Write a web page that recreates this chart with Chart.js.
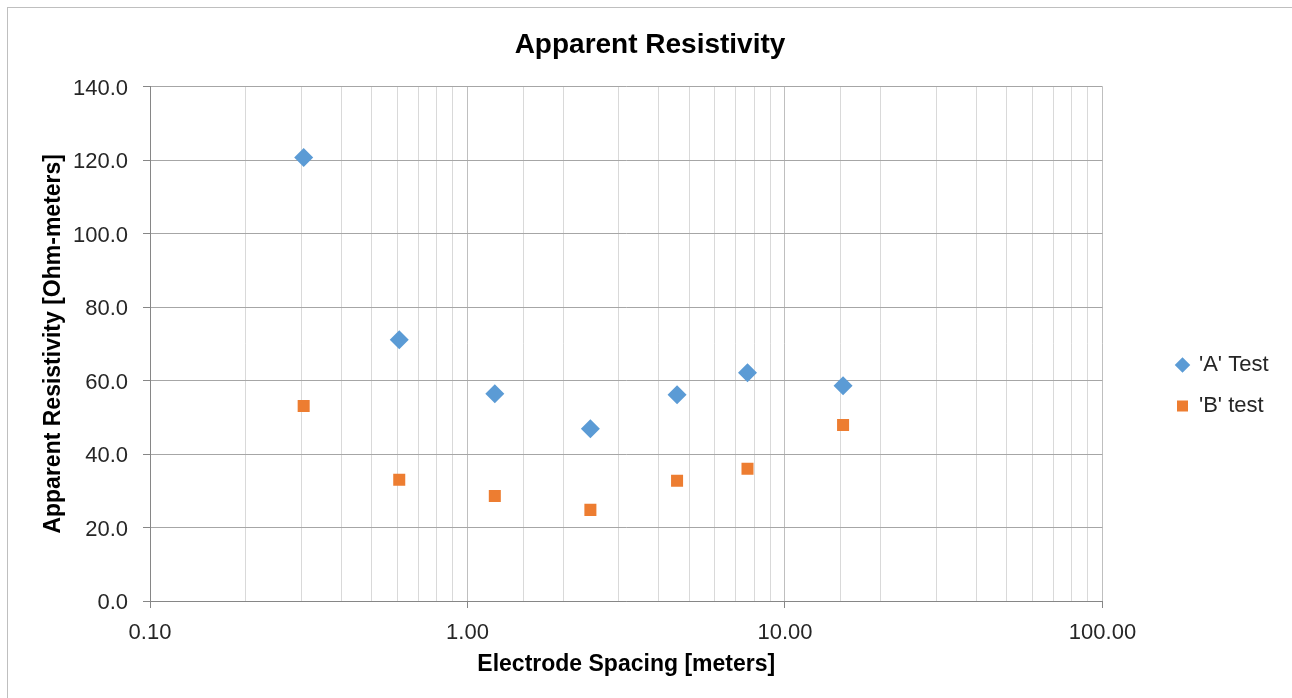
<!DOCTYPE html>
<html>
<head>
<meta charset="utf-8">
<script src="https://cdn.jsdelivr.net/npm/chart.js@4/dist/chart.umd.min.js"></script>
<style>
  html, body { margin: 0; padding: 0; background: #fff; }
  #wrap { width: 1292px; height: 698px; position: relative; }
</style>
</head>
<body>
<div id="wrap"><canvas id="chart" width="1292" height="698"></canvas></div>
<script>
// Electrode spacing (m) and apparent resistivity (ohm-m)
var spacing = [0.3048, 0.6096, 1.2192, 2.4384, 4.572, 7.62, 15.24];
var testA = [120.7, 71.1, 56.4, 46.9, 56.1, 62.1, 58.6];
var testB = [53.1, 33.0, 28.6, 24.8, 32.7, 36.0, 47.9];
var seriesNames = ["'A' Test", "'B' test"];
var yTicks = [0, 20, 40, 60, 80, 100, 120, 140];

var font = "'Liberation Sans', Arial, sans-serif";

function toPoints(xs, ys) {
    return xs.map(function (x, i) { return { x: x, y: ys[i] }; });
}

function isDecade(v) {
    var l = Math.log10(v);
    return Math.abs(l - Math.round(l)) < 1e-6;
}

// light frame around the chart (only left/top show in the original)
var framePlugin = {
    id: 'frame',
    beforeDraw: function (chart) {
        var ctx = chart.ctx;
        ctx.save();
        ctx.fillStyle = '#fff';
        ctx.fillRect(0, 0, chart.width, chart.height);
        ctx.strokeStyle = '#bfbfbf';
        ctx.lineWidth = 1;
        ctx.strokeRect(7.5, 7.5, chart.width + 20, chart.height + 20);
        ctx.restore();
    }
};

// move the legend and title like the Excel layout
var placeBoxes = {
    id: 'placeBoxes',
    afterLayout: function (chart) {
        var lg = chart.legend;
        var w = lg.width, h = lg.height;
        lg.left = 1158;
        lg.right = lg.left + w;
        lg.top = 335;
        lg.bottom = lg.top + h;

        var t = chart.titleBlock;
        var shift = 650 - (t.left + t.right) / 2;
        t.left += shift;
        t.right += shift;
    }
};

Chart.defaults.font.family = font;
Chart.defaults.color = '#262626';

new Chart(document.getElementById('chart'), {
    type: 'scatter',
    data: {
        datasets: [{
            label: seriesNames[0],
            data: toPoints(spacing, testA),
            backgroundColor: '#5b9bd5',
            borderColor: '#5b9bd5',
            pointStyle: 'rectRot',
            pointRadius: 9.5,
            pointHoverRadius: 9.5,
            borderWidth: 0
        }, {
            label: seriesNames[1],
            data: toPoints(spacing, testB),
            backgroundColor: '#ed7d31',
            borderColor: '#ed7d31',
            pointStyle: 'rect',
            pointRadius: 8.5,
            pointHoverRadius: 8.5,
            borderWidth: 0
        }]
    },
    options: {
        responsive: false,
        animation: false,
        layout: { padding: { left: 8, right: 69, top: 8, bottom: 8 } },
        plugins: {
            title: {
                display: true,
                text: 'Apparent Resistivity',
                font: { size: 28, weight: 'bold' },
                color: '#000',
                padding: { top: 20, bottom: 25 }
            },
            legend: {
                position: 'right',
                align: 'start',
                labels: {
                    usePointStyle: true,
                    boxWidth: 11,
                    boxHeight: 11,
                    padding: 19,
                    font: { size: 22 },
                    color: '#262626'
                }
            },
            tooltip: { enabled: false }
        },
        scales: {
            x: {
                type: 'logarithmic',
                min: 0.1,
                max: 100,
                afterFit: function (s) { s.height = 89; },
                title: {
                    display: true,
                    text: 'Electrode Spacing [meters]',
                    font: { size: 23, weight: 'bold' },
                    color: '#000',
                    padding: { top: 0, bottom: 12 }
                },
                ticks: {
                    autoSkip: false,
                    maxRotation: 0,
                    padding: 12,
                    font: { size: 22 },
                    color: '#262626',
                    callback: function (v) {
                        return isDecade(v) ? Number(v).toFixed(2) : '';
                    }
                },
                grid: {
                    tickLength: 7,
                    color: function (c) {
                        return (c.tick && isDecade(c.tick.value)) ? '#bfbfbf' : '#d9d9d9';
                    },
                    tickColor: function (c) {
                        return (c.tick && isDecade(c.tick.value)) ? '#868686' : 'rgba(0,0,0,0)';
                    }
                },
                border: { color: '#868686' }
            },
            y: {
                min: 0,
                max: 140,
                afterBuildTicks: function (s) {
                    s.ticks = yTicks.map(function (v) { return { value: v }; });
                },
                afterFit: function (s) { s.width = 142; },
                title: {
                    display: true,
                    text: 'Apparent Resistivity [Ohm-meters]',
                    font: { size: 23, weight: 'bold' },
                    color: '#000',
                    padding: { top: 32, bottom: 0 }
                },
                ticks: {
                    padding: 15,
                    labelOffset: 2,
                    font: { size: 22 },
                    color: '#262626',
                    callback: function (v) { return Number(v).toFixed(1); }
                },
                grid: {
                    tickLength: 7,
                    color: '#a6a6a6',
                    tickColor: '#868686'
                },
                border: { color: '#868686' }
            }
        }
    },
    plugins: [framePlugin, placeBoxes]
});
</script>
</body>
</html>
